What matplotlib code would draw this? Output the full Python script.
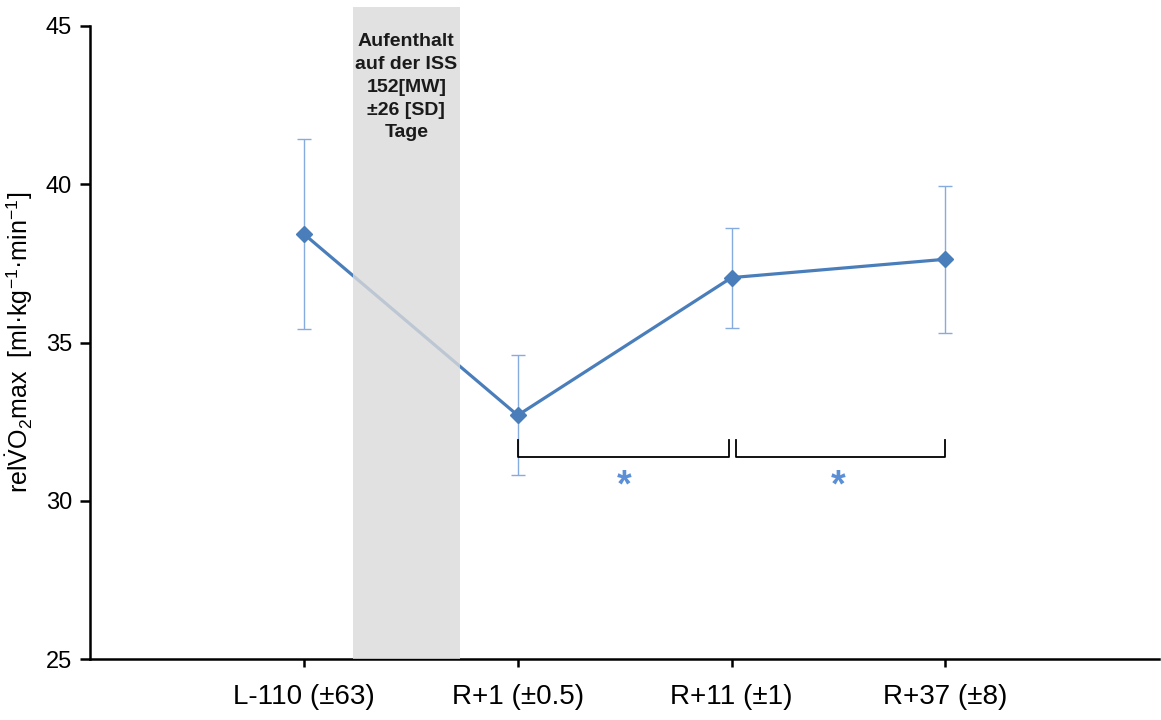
import matplotlib.pyplot as plt
import numpy as np

plt.rcParams['font.family'] = ['Liberation Sans', 'DejaVu Sans']
plt.rcParams['mathtext.fontset'] = 'custom'
plt.rcParams['mathtext.rm'] = 'Liberation Sans'
plt.rcParams['mathtext.it'] = 'Liberation Sans:italic'

# time points relative to the ISS mission (days)
labels = ["L-110 (±63)", "R+1 (±0.5)", "R+11 (±1)", "R+37 (±8)"]
vo2max = [38.43, 32.70, 37.05, 37.63]
sd = [3.01, 1.90, 1.58, 2.32]

# significant differences between time points (index pairs)
sig_pairs = [(1, 2), (2, 3)]

line_col = "#4a7ebb"
err_col = "#86acdf"
star_col = "#5b8fd6"

fig = plt.figure(figsize=(11.61, 7.2), dpi=100)
ax = fig.add_axes([0.0775, 0.0847, 0.921, 0.8792])

x = np.arange(1, len(labels) + 1)
ax.errorbar(x, vo2max, yerr=sd, fmt="none", ecolor=err_col, elinewidth=1.0,
            capsize=5, capthick=1.0, zorder=2)
ax.plot(x, vo2max, color=line_col, lw=2.3, marker="D", markersize=8,
        zorder=3)

# stay on the ISS, drawn over the line
ax.axvspan(1.229, 1.729, ymin=0, ymax=1.03, color="#dadada", alpha=0.8,
           lw=0, zorder=4, clip_on=False)
ax.text(1.479, 44.78, "Aufenthalt\nauf der ISS\n152[MW]\n±26 [SD]\nTage",
        ha="center", va="top", fontsize=14, linespacing=1.45,
        fontweight="bold", color="#1a1a1a", zorder=5)

# brackets with significance stars
for i, j in sig_pairs:
    x1 = x[i] + (0.0 if i == 1 else 0.02)
    x2 = x[j] - (0.01 if j == 2 else 0.0)
    ax.plot([x1, x1, x2, x2], [31.92, 31.37, 31.37, 31.92], color="black",
            lw=1.3, zorder=3)
    ax.text((x[i] + x[j]) / 2, 30.45, "*", ha="center", va="center",
            fontsize=27, fontweight="bold", color=star_col)

ax.set_xlim(0, 5)
ax.set_ylim(25, 45)
ax.set_yticks([25, 30, 35, 40, 45])
ax.set_xticks(x)
ax.set_xticklabels(labels, fontsize=20)
ax.tick_params(axis="y", labelsize=17, direction="out", length=7, width=1.8,
               pad=6)
ax.tick_params(axis="x", direction="out", length=6, width=1.8, pad=12)

for s in ["top", "right"]:
    ax.spines[s].set_visible(False)
for s in ["left", "bottom"]:
    ax.spines[s].set_linewidth(1.8)

ax.set_ylabel(r"rel$\dot{\mathrm{V}}$O$_2$max  [ml·kg$^{-1}$·min$^{-1}$]",
              fontsize=18, labelpad=8)

fig.savefig("out.png", dpi=100)
